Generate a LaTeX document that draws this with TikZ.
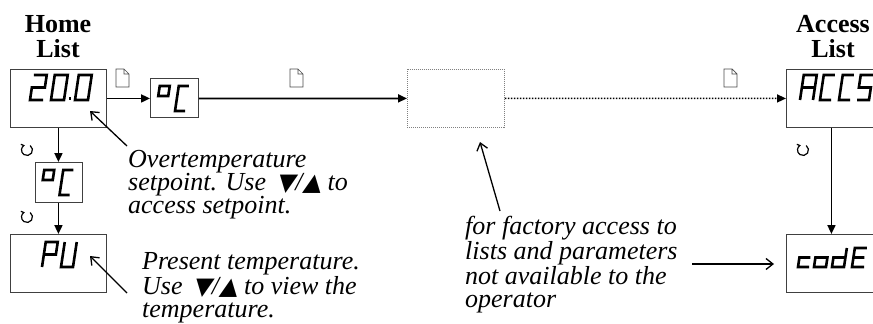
\documentclass[tikz,border=0pt]{standalone}
\usepackage{fontspec}
\setmainfont{Liberation Serif}
\newfontfamily\symfont[FakeSlant=0.2]{DejaVu Sans}
\usetikzlibrary{arrows.meta}
\newcommand\lcdglyph[3]{\draw[lcd, shift={(#1,#2)}, xslant=0.15] #3;}
\newcommand\pageic[2]{\draw[pageicon, shift={(#1,#2)}] (0,0) -- (8,0) -- (13,5) -- (13,18) -- (0,18) -- cycle (8,0) -- (8,5) -- (13,5);}
\newcommand\loopic[2]{\draw[loopicon, shift={(#1,#2)}] (-55:5.5) arc[start angle=-55, end angle=235, radius=5.5] -- ++(-3,-1.2);}
\newcommand\tri[1]{{\symfont\fontsize{24}{24}\selectfont #1}}
\tikzset{
  box/.style={draw=black!75, line width=0.9pt, fill=white, inner sep=0pt},
  hiddenbox/.style={draw=black!50, line width=0.8pt, dash pattern=on 1pt off 1pt, inner sep=0pt},
  flow/.style={line width=1.8pt, -{Triangle[length=9pt,width=8pt]}},
  dottedflow/.style={line width=1.5pt, dash pattern=on 1.5pt off 1.5pt, -{Triangle[length=9pt,width=8pt]}},
  note/.style={line width=1.3pt, -{Straight Barb[length=7pt,width=11pt]}},
  lcd/.style={line width=2.6pt, line join=miter, line cap=butt},
  pageicon/.style={draw=black!70, line width=0.7pt, fill=white},
  loopicon/.style={line width=1.2pt},
  txt/.style={font=\fontsize{26}{23}\selectfont\itshape, align=left, inner sep=0pt},
  head/.style={font=\fontsize{26}{23}\selectfont\bfseries, inner sep=0pt},
}
\begin{document}
\begin{tikzpicture}[x=1pt, y=-1pt]
\useasboundingbox (0,0) rectangle (873,324);
\clip (0,0) rectangle (873,324);

% headings
\node[head, anchor=base] (h1) at (58,32) {Home};
\node[head, anchor=base] (h2) at (58,57) {List};
\node[head, anchor=base] (h3) at (833,32) {Access};
\node[head, anchor=base] (h4) at (833,57) {List};

% boxes
\node[box, anchor=north west, minimum width=96pt, minimum height=58pt] (home) at (10,69) {};
\node[box, anchor=north west, minimum width=48pt, minimum height=39pt] (degA) at (150,78) {};
\node[hiddenbox, anchor=north west, minimum width=97pt, minimum height=58pt] (hidden) at (407,69) {};
\node[box, anchor=north west, minimum width=90pt, minimum height=58pt] (accs) at (786,69) {};
\node[box, anchor=north west, minimum width=47pt, minimum height=40pt] (degB) at (34.5,162) {};
\node[box, anchor=north west, minimum width=96pt, minimum height=58pt] (pu) at (10,234) {};
\node[box, anchor=north west, minimum width=90pt, minimum height=58pt] (code) at (786,234) {};

% LCD texts
% 20.0
\lcdglyph{30}{100}{(0,-25) -- (13,-25) -- (13,-12.5) -- (0,-12.5) -- (0,0) -- (13,0)}
\lcdglyph{51}{100}{(0,0) rectangle (13,-25)}
\fill (68.5,97.4) rectangle (71.1,100);
\lcdglyph{75}{100}{(0,0) rectangle (13,-25)}
% degC (A)
\lcdglyph{156}{111}{(0,-15) rectangle (10,-25)}
\lcdglyph{175}{111}{(10,-25) -- (0,-25) -- (0,0) -- (10,0)}
% degC (B)
\lcdglyph{40.5}{195}{(0,-15) rectangle (10,-25)}
\lcdglyph{59.5}{195}{(10,-25) -- (0,-25) -- (0,0) -- (10,0)}
% PU
\lcdglyph{42}{267}{(0,0) -- (0,-25) -- (12,-25) -- (12,-12.5) -- (0,-12.5)}
\lcdglyph{61}{267}{(0,-25) -- (0,0) -- (12,0) -- (12,-25)}
% ACCS
\lcdglyph{800}{100}{(0,0) -- (0,-25) -- (13,-25) -- (13,0) (0,-12.5) -- (13,-12.5)}
\lcdglyph{820}{100}{(11,-25) -- (0,-25) -- (0,0) -- (11,0)}
\lcdglyph{839}{100}{(11,-25) -- (0,-25) -- (0,0) -- (11,0)}
\lcdglyph{857}{100}{(12,-25) -- (0,-25) -- (0,-12.5) -- (12,-12.5) -- (12,0) -- (0,0)}
% codE
\lcdglyph{798}{267}{(11,-9.5) -- (0,-9.5) -- (0,0) -- (11,0)}
\lcdglyph{814}{267}{(0,0) rectangle (12,-9.5)}
\lcdglyph{832}{267}{(12,-19) -- (12,0) -- (0,0) -- (0,-9.5) -- (12,-9.5)}
\lcdglyph{852}{267}{(12,-19) -- (0,-19) -- (0,0) -- (12,0) (0,-9.5) -- (11,-9.5)}

% flow connectors
\draw[flow] (home.east) -- (degA.west |- home.east);
\draw[flow] (degA.east |- home.east) -- (hidden.west);
\draw[dottedflow] (hidden.east) -- (accs.west);
\draw[flow] (home.south) -- (home.south |- degB.north);
\draw[flow] (home.south |- degB.south) -- (home.south |- pu.north);
\draw[flow] (accs.south) -- (code.north);

% icons
\pageic{116}{69}
\pageic{290}{69}
\pageic{724}{69}
\loopic{27}{150}
\loopic{27}{217}
\loopic{803}{150}

% notes
\node[txt, anchor=base west] (ot) at (128,213) {Overtemperature\\setpoint. Use\ \,\tri{▼}/\tri{▲} to\\access setpoint.};
\node[txt, anchor=base west] (pt) at (142,317) {Present temperature.\\Use\ \,\tri{▼}/\tri{▲} to view the\\temperature.};
\node[txt, anchor=base west] (fa) at (465,307) {for factory access to\\lists and parameters\\not available to the\\operator};

\coordinate (n1a) at (127,146);
\coordinate (n1b) at (90,111);
\coordinate (n2a) at (127,293);
\coordinate (n2b) at (90,256);
\coordinate (n3a) at (500,211);
\coordinate (n3b) at (480,142);
\coordinate (n4a) at (692,264);
\coordinate (n4b) at (774,264);
\draw[note] (n1a) -- (n1b);
\draw[note] (n2a) -- (n2b);
\draw[note] (n3a) -- (n3b);
\draw[note] (n4a) -- (n4b);
\end{tikzpicture}
\end{document}
